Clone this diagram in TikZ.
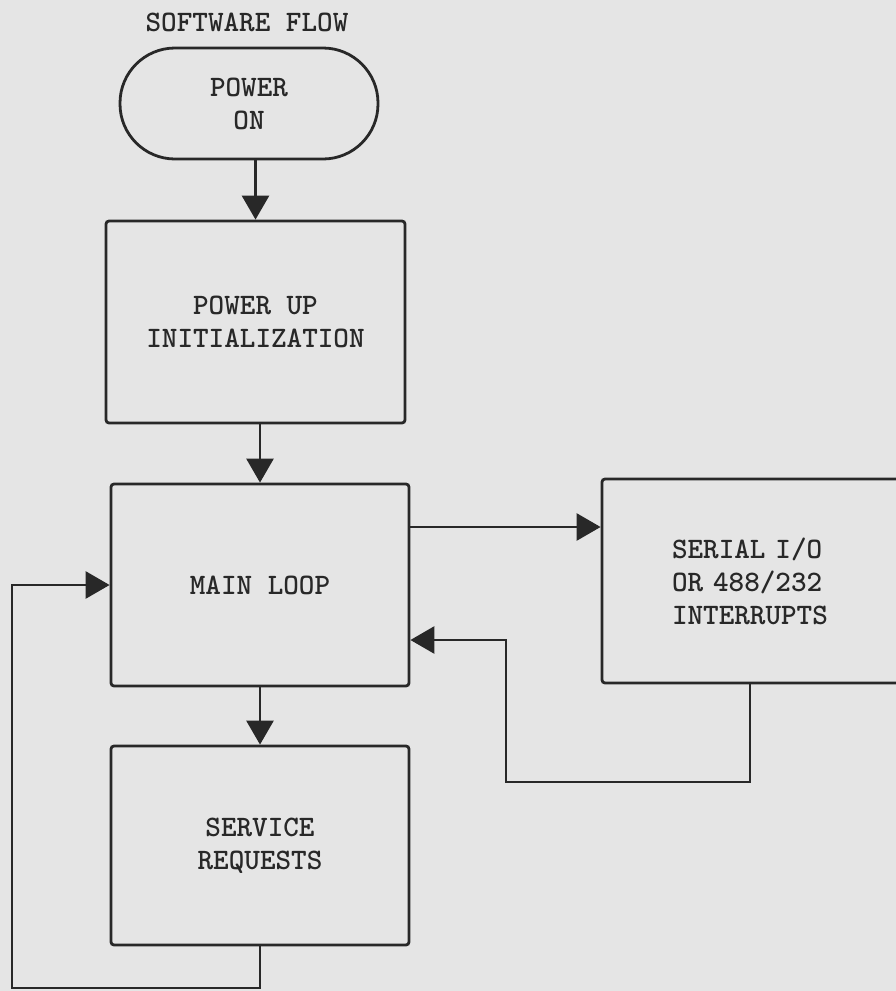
\documentclass[tikz,border=0pt]{standalone}
\usepackage{xcolor}
\usepackage{tikz}
\usetikzlibrary{arrows.meta, positioning}
\definecolor{paper}{RGB}{229, 229, 229}
\definecolor{ink}{RGB}{40, 40, 40}

\begin{document}
\begin{tikzpicture}[x=1pt, y=-1pt,
  box/.style={rectangle, draw=ink, line width=2.8pt, rounded corners=3pt,
    font=\fontsize{29.7pt}{33pt}\selectfont\ttfamily\bfseries,
    text=ink, align=center, inner sep=0pt},
  term/.style={box, rounded corners=55pt},
  arr/.style={-{Triangle[length=24pt, width=27pt]}, line width=2.8pt, draw=ink},
  lbl/.style={font=\fontsize{29.7pt}{33pt}\selectfont\ttfamily\bfseries, text=ink}
]
\fill[paper] (0,0) rectangle (896,991);
\useasboundingbox (0,0) rectangle (896,991);
\clip (0,0) rectangle (896,991);
\node[lbl] at (247, 22) (title) {SOFTWARE FLOW};
\node[term, minimum width=258pt, minimum height=111pt] at (249, 103.5) (power) {POWER\\ON};
\node[box, minimum width=299pt, minimum height=202pt] at (255.5, 322) (init) {POWER UP\\INITIALIZATION};
\node[box, minimum width=298pt, minimum height=202pt] at (260, 585) (main) {MAIN LOOP};
\node[box, minimum width=298pt, minimum height=199pt] at (260, 845.5) (service) {SERVICE\\REQUESTS};
\node[box, minimum width=338pt, minimum height=204pt,
      text width=198pt, inner xsep=70pt, align=left] at (771, 581) (serial) {SERIAL I/O\\OR 488/232\\INTERRUPTS};
\draw[arr] (power.south -| init.north) -- (init.north);
\draw[arr] (init.south -| main.north) -- (main.north);
\draw[arr] (main.south) -- (service.north);
\coordinate (mainout) at ([yshift=58pt]main.east);
\draw[arr] (mainout) -- (mainout -| serial.west);
\coordinate (retjog) at (506, 782);
\coordinate (mainin) at ([yshift=-55pt]main.east);
\draw[arr] ([xshift=-21pt]serial.south) |- (retjog) |- (mainin);
\coordinate (loopcorner) at (12, 988);
\draw[arr] (service.south) |- (loopcorner) |- (main.west);
\end{tikzpicture}
\end{document}
